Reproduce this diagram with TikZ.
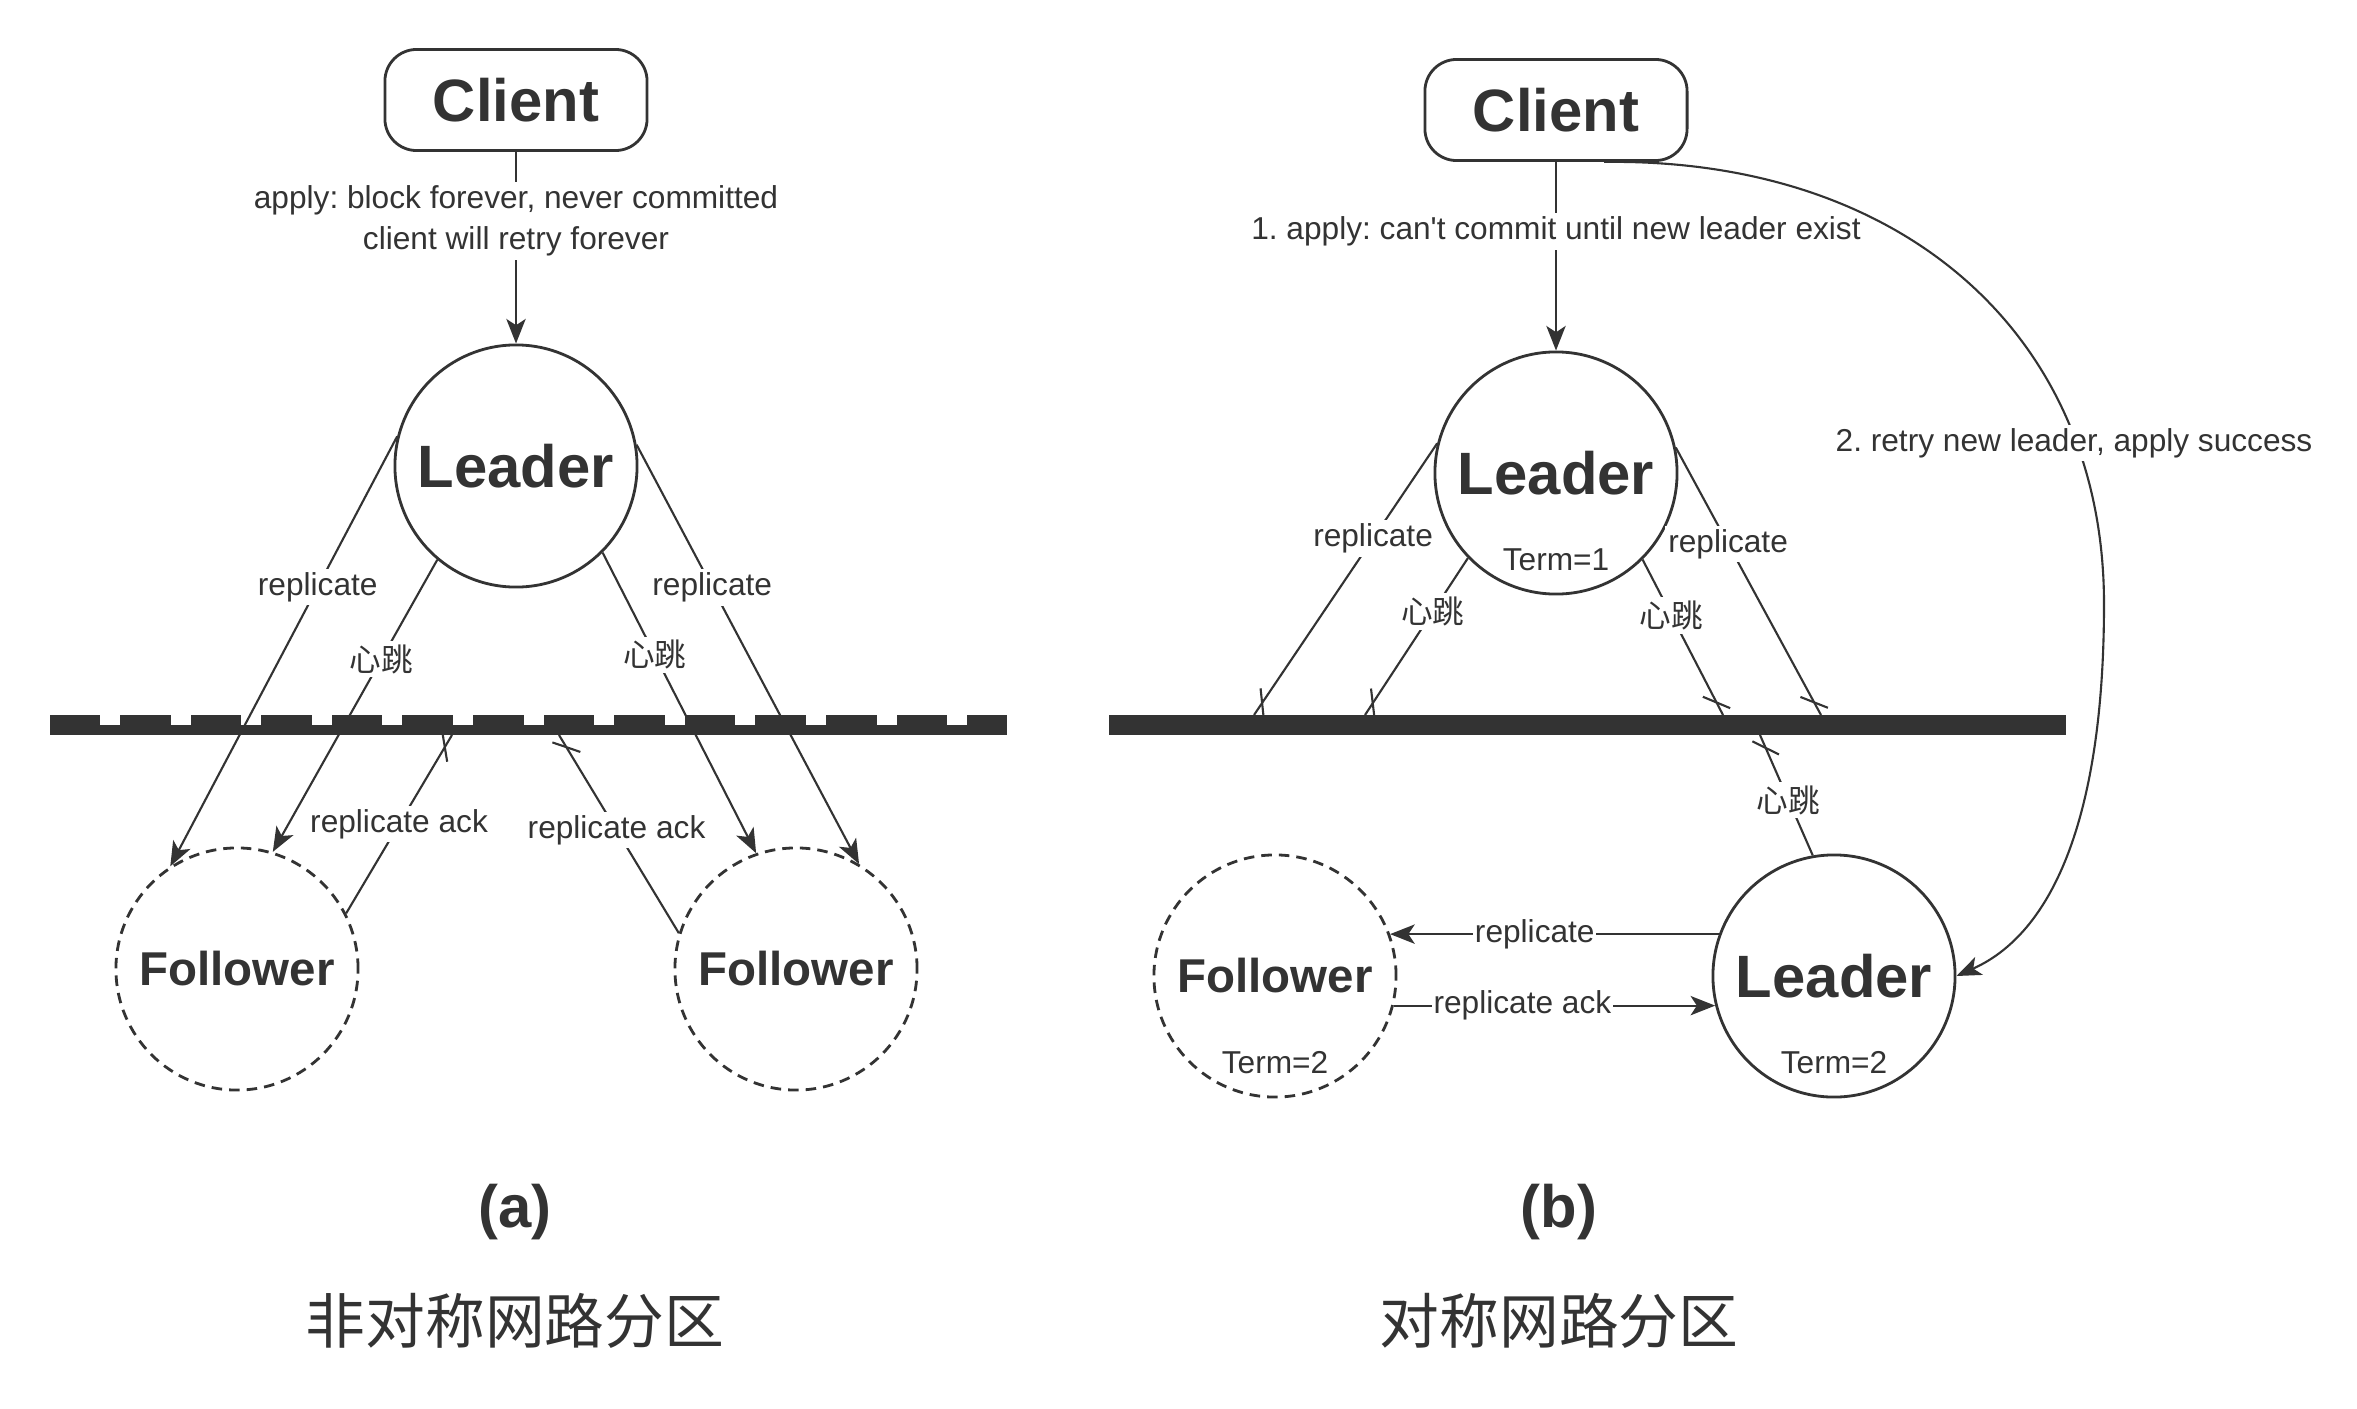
\documentclass[tikz,border=0pt]{standalone}
\usepackage{fontspec}
\setmainfont{Liberation Sans}
\newfontfamily\lat{Liberation Sans}
\newfontfamily\cjk{Noto Sans CJK SC}
\usetikzlibrary{arrows.meta,positioning,decorations.markings}
\definecolor{ink}{HTML}{333333}
\frenchspacing
\begin{document}
\begin{tikzpicture}[x=0.01cm,y=-0.01cm,>={Stealth[length=7pt,width=5.5pt,inset=1.8pt]},line join=round,
	color=ink,line width=0.6pt,font=\fontsize{9}{11.6}\selectfont,
	box/.style={draw,rounded corners=9pt,minimum width=2.62cm,minimum height=1.01cm,line width=0.8pt,font=\fontsize{17}{20}\selectfont\bfseries},
	lead/.style={draw,circle,minimum size=2.42cm,inner sep=0pt,line width=0.8pt,font=\fontsize{17}{20}\selectfont\bfseries},
	foll/.style={lead,dash pattern=on 3pt off 2pt,font=\fontsize{13.5}{16}\selectfont\bfseries},
	term/.style={inner sep=0pt},
	lbl/.style={fill=white,inner sep=1pt},
	big/.style={font=\fontsize{17}{20}\selectfont},
	cut/.style={postaction={decorate},decoration={markings,mark=at position -4pt with {\draw[solid] (220:4.2pt)--(40:4.2pt);}}}]
	\useasboundingbox (0,0) rectangle (2357,1409);
	% (a)
	\node[box] (C1) at (516,100) {Client};
	\node[lead] (L1) at (516,466) {Leader};
	\node[foll] (F1) at (237,969) {Follower};
	\node[foll] (F2) at (796,969) {Follower};
	\fill (50,715) rectangle (1007,735);
	\foreach \k in {0,...,12} \fill[white] ({100+70.6*\k},715) rectangle +(20,10);
	\coordinate (a1) at (452,735);
	\coordinate (a2) at (559,735);
	\draw[->] (C1) -- node[lbl,pos=.36,align=center]{apply: block forever, never committed\\client will retry forever} (L1);
	\draw[->] (L1.166) -- node[lbl,pos=.35]{replicate} (F1.123);
	\draw[->] (L1.230) -- node[lbl,pos=.34]{\cjk 心跳} (F1.73);
	\draw[->] (L1.10) -- node[lbl,pos=.34]{replicate} (F2.59);
	\draw[->] (L1.315) -- node[lbl,pos=.34]{\cjk 心跳} (F2.109);
	\draw[cut] (F1.27) -- node[lbl,pos=.5]{replicate ack} (a1);
	\draw[cut] (F2.163) -- node[lbl,pos=.52]{replicate ack} (a2);
	\node[big,font=\fontsize{17}{20}\selectfont\bfseries] (ca) at (515,1212) {(a)};
	\node[big] (ta) at (515,1321) {\cjk 非对称网路分区};
	% (b)
	\node[box] (C2) at (1556,110) {Client};
	\node[lead] (L2) at (1556,473) {Leader};
	\node[term,above=6.8pt of L2.south] (T1) {Term=1};
	\node[foll] (F3) at (1275,976) {Follower};
	\node[term,above=6.8pt of F3.south] (T2) {Term=2};
	\node[lead] (L3) at (1834,976) {Leader};
	\node[term,above=6.8pt of L3.south] (T3) {Term=2};
	\fill (1109,715) rectangle (2066,735);
	\coordinate (b1) at (1254,715);
	\coordinate (b2) at (1365,715);
	\coordinate (b3) at (1723,715);
	\coordinate (b4) at (1821,715);
	\coordinate (b5) at (1760,735);
	\draw[->] (C2) -- node[lbl,pos=.37]{1. apply: can{\lat'}t commit until new leader exist} (L2);
	\draw[cut] (L2.166) -- node[lbl,pos=.35]{replicate} (b1);
	\draw[cut] (L2.224) -- node[lbl,pos=.34]{\cjk 心跳} (b2);
	\draw[cut] (L2.315) -- node[lbl,pos=.36]{\cjk 心跳} (b3);
	\draw[cut] (L2.12) -- node[lbl,pos=.36]{replicate} (b4);
	\draw[cut] (L3.100) -- node[lbl,pos=.46]{\cjk 心跳} (b5);
	\draw[->] (L3.160) -- node[lbl,inner sep=.5pt,pos=.56]{replicate} (F3.20);
	\draw[->] (F3.-14) -- node[lbl,inner sep=.5pt,pos=.4]{replicate ack} (L3.194);
	\draw[->] ([xshift=0.48cm]C2.south) .. controls (1904,158) and (2104,336) .. (2104,604) .. controls (2104,800) and (2060,930) .. (L3.east);
	\node[lbl] (retry) at (2074,443) {2. retry new leader, apply success};
	\node[big,font=\fontsize{17}{20}\selectfont\bfseries] (cb) at (1559,1212) {(b)};
	\node[big] (tb) at (1559,1321) {\cjk 对称网路分区};
\end{tikzpicture}
\end{document}
